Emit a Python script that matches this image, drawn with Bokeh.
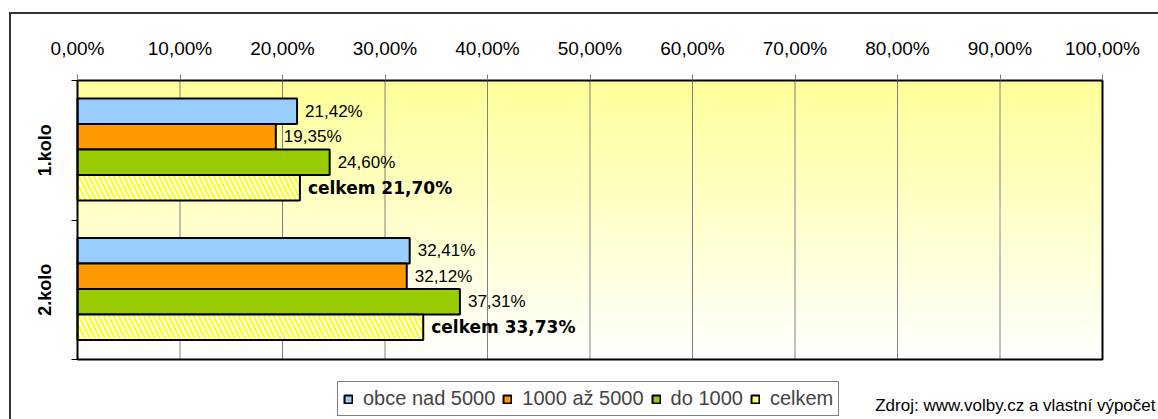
import numpy as np
from bokeh.plotting import figure
from bokeh.models import Range1d, FixedTicker, Legend, LegendItem, Label
from bokeh.embed import file_html
from bokeh.resources import INLINE
from bokeh.core.properties import value

# ---- data ----
categories = ["1.kolo", "2.kolo"]
series_names = ["obce nad 5000", "1000 až 5000", "do 1000", "celkem"]
obce_nad_5000 = [21.42, 32.41]
od_1000_do_5000 = [19.35, 32.12]
do_1000 = [24.60, 37.31]
celkem = [21.70, 33.73]
x_ticks = [0, 10, 20, 30, 40, 50, 60, 70, 80, 90, 100]
x_tick_labels = ["0,00%", "10,00%", "20,00%", "30,00%", "40,00%", "50,00%",
                 "60,00%", "70,00%", "80,00%", "90,00%", "100,00%"]
source_text = "Zdroj: www.volby.cz a vlastní výpočet"

series_values = [obce_nad_5000, od_1000_do_5000, do_1000, celkem]
colors = ["#99CCFF", "#FF9900", "#99CC00", "#FFFF00"]
FONT = "Liberation Sans"
BOLD_FONT = "DejaVu Sans"

# ---- layout (pixels) ----
W, H = 1158, 419
PA_LEFT, PA_RIGHT, PA_TOP, PA_BOTTOM = 77, 1102, 80, 359   # plot-area box on the page
FR_LEFT, FR_TOP = 75, 78                                   # frame starts a bit outside
n_cat = len(categories)
sx = (PA_RIGHT - PA_LEFT) / 100.0
sy = (PA_BOTTOM - PA_TOP) / n_cat
x_start = -(PA_LEFT - FR_LEFT) / sx
x_end = 100 + (W - PA_RIGHT) / sx
y_top = -(PA_TOP - FR_TOP) / sy
y_bottom = n_cat + (H - PA_BOTTOM) / sy

p = figure(width=W, height=H, output_backend="svg", toolbar_location=None,
           x_range=Range1d(x_start, x_end), y_range=Range1d(start=y_bottom, end=y_top),
           x_axis_location="above",
           min_border_left=FR_LEFT, min_border_right=0, min_border_top=FR_TOP, min_border_bottom=0,
           frame_width=W - FR_LEFT, frame_height=H - FR_TOP)
p.stylesheets = [":host { box-shadow: inset 9px 12px 0 0 #ffffff, inset 11px 14px 0 0 #333333; }"]
p.border_fill_alpha = 0
p.background_fill_alpha = 0
p.outline_line_color = None

# gradient background of plot area
ny = 200
t = np.linspace(0, 1, ny)
bcomp = (153 + (255 - 153) * t).astype(np.uint32)
img = np.zeros((ny, 2), dtype=np.uint32)
view = img.view(dtype=np.uint8).reshape((ny, 2, 4))
view[:, :, 0] = 255
view[:, :, 1] = 255
view[:, :, 2] = bcomp[:, None]
view[:, :, 3] = 255
p.image_rgba(image=[img], x=0, y=0, dw=100, dh=n_cat, level="image")

# vertical grid lines limited to the plot area
p.segment(x0=x_ticks, x1=x_ticks, y0=0, y1=n_cat, line_color="#808080", line_width=1,
          level="underlay")
p.xgrid.grid_line_color = None
p.ygrid.grid_line_color = None

# x axis (top)
xa = p.xaxis[0]
xa.ticker = FixedTicker(ticks=x_ticks)
xa.major_label_overrides = {tk: lb for tk, lb in zip(x_ticks, x_tick_labels)}
xa.major_label_text_font = FONT
xa.major_label_text_font_size = "19px"
xa.major_label_text_color = "black"
xa.major_tick_out = 4
xa.major_tick_in = 2
xa.major_tick_line_color = "#808080"
xa.minor_tick_line_color = None
xa.axis_line_color = None
xa.major_label_standoff = 16

# y axis (left): labels at category centres, ticks at boundaries
cat_pos = [i + 0.5 for i in range(n_cat)]
ya = p.yaxis[0]
ya.ticker = FixedTicker(ticks=cat_pos, minor_ticks=list(range(n_cat + 1)))
ya.major_label_overrides = {pos: c for pos, c in zip(cat_pos, categories)}
ya.major_label_orientation = "vertical"
ya.major_label_text_font = FONT
ya.major_label_text_font_style = "bold"
ya.major_label_text_font_size = "18px"
ya.major_label_text_color = "black"
ya.major_tick_out = 0
ya.major_tick_in = 0
ya.minor_tick_out = 4
ya.minor_tick_in = 2
ya.minor_tick_line_color = "black"
ya.minor_tick_line_width = 1
ya.axis_line_color = None
ya.major_label_standoff = 17

bar_h = 0.183
offsets = [-1.5 * bar_h, -0.5 * bar_h, 0.5 * bar_h, 1.5 * bar_h]

items = []
for i, (name, vals) in enumerate(zip(series_names, series_values)):
    ys = [pos - 0.005 + offsets[i] for pos in cat_pos]
    kw = dict(fill_color=colors[i], line_color="black", line_width=2)
    if name == "celkem":
        kw.update(hatch_pattern="\\", hatch_color="white", hatch_scale=10, hatch_weight=2.5)
    r = p.hbar(y=ys, left=0, right=vals, height=bar_h, **kw)
    items.append(LegendItem(label=name, renderers=[r]))
    is_total = name == "celkem"
    texts = [("celkem " if is_total else "") + f"{v:.2f}".replace(".", ",") + "%" for v in vals]
    p.text(x=vals, y=ys, text=texts, x_offset=8, text_baseline="middle", text_align="left",
           text_font=value(BOLD_FONT if is_total else FONT), text_font_size="17px",
           text_font_style="bold" if is_total else "normal", text_color="black")

# plot-area border
p.quad(left=0, right=100, top=0, bottom=n_cat, fill_color=None, line_color="black", line_width=2)

legend = Legend(items=items, orientation="horizontal", location=(337 - FR_LEFT, 3),
                glyph_width=10, glyph_height=10, label_standoff=10, spacing=7,
                padding=5, margin=0, border_line_color="black", border_line_width=1,
                label_text_font=FONT, label_text_font_size="20px",
                label_height=20, background_fill_color="white")
p.add_layout(legend, "center")

p.add_layout(Label(x=100, y=n_cat, x_offset=53, y_offset=-46, text=source_text,
                   text_align="right", text_baseline="middle",
                   text_font=FONT, text_font_size="17px", text_color="black"))

open("out.html", "w").write(file_html(p, INLINE))
